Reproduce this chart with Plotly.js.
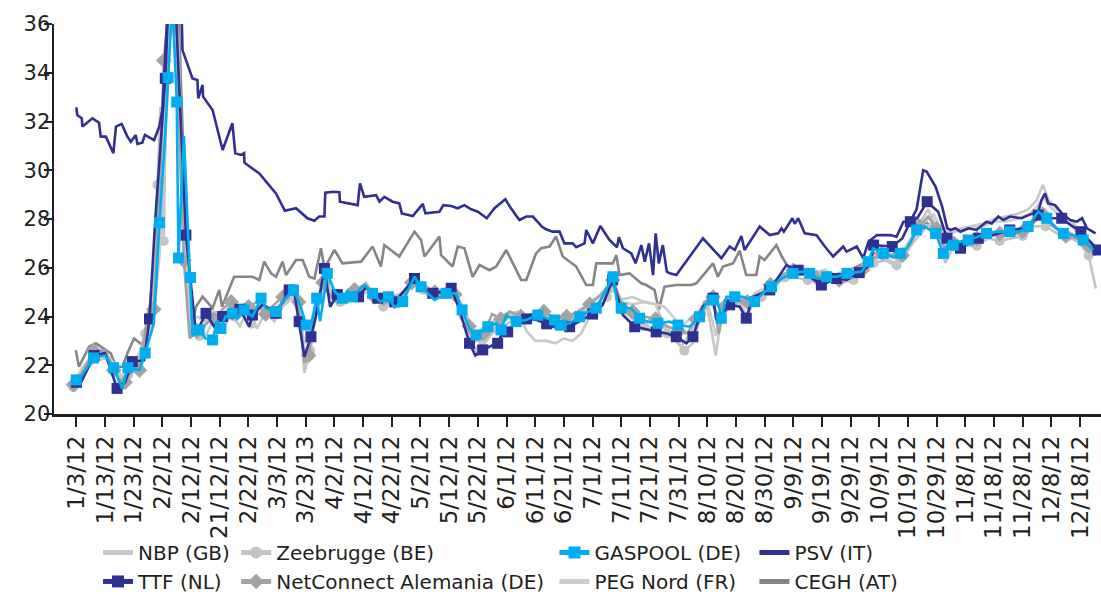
<!DOCTYPE html>
<html><head><meta charset="utf-8">
<script src="https://cdn.plot.ly/plotly-3.0.1.min.js"></script>
<style>html,body{margin:0;padding:0;background:#fff}#chart{width:1101px;height:595px}</style>
</head><body><div id="chart"></div>
<script>
// x values are day of year 2012 (Jan 3 = 3)
const tickLabels = ["1/3/12","1/13/12","1/23/12","2/2/12","2/12/12","21/12/12","2/22/12","3/3/12","3/23/13","4/2/12","4/12/12","4/22/12","5/2/12","5/12/12","5/22/12","6/1/12","6/11/12","6/21/12","7/1/12","7/11/12","7/21/12","7/31/12","8/10/12","8/20/12","8/30/12","9/9/12","9/19/12","9/29/12","10/9/12","10/19/12","10/29/12","11/8/12","11/18/12","11/28/12","12/8/12","12/18/12"];
const tickDays = [3,13,23,33,43,53,63,73,83,93,103,113,123,133,143,153,163,173,183,193,203,213,223,233,243,253,263,273,283,293,303,313,323,333,343,353];

const nbpDay = [2,5,9,13,16,19,21,24,27,30,32,34,36,38.5,40.5,42.5,45,48,51,54,57,60,63,66,69,72,75,78,80.5,82.5,84.5,86,88,90,93,96,100,104,107,110,113,117,121,124,128,132,135,138,141,144,147,150,153,157,160,163,167,170,173,176,179,182,185,188,190.5,193,197,201,205,208,211,214,217,220,223,226,228,231,234,237,240,244,248,252,256,260,264,268,272,276,280,284,288,292,296,299,302,305,308,311,315,319,323,327,331,335,338,340,342,345,348,351,354,357];
const nbpPrice = [21.2,21.8,22.1,22.3,22.0,21.3,21.7,22.1,22.6,24.0,26.5,31.0,36.5,34.0,27.0,23.4,23.6,23.2,23.9,23.5,24.1,23.6,24.3,23.5,24.2,23.8,24.4,24.8,24.1,22.6,22.5,23.9,24.5,25.2,24.8,24.5,24.9,25.4,24.8,24.7,24.6,25.0,25.5,25.0,24.7,24.9,25.0,24.2,23.2,22.9,23.3,23.9,24.0,24.2,23.4,23.0,23.0,22.9,23.1,23.0,23.3,24.0,24.6,24.9,25.1,24.7,24.8,24.6,24.5,23.6,23.1,22.8,23.3,24.0,24.4,22.4,24.2,24.6,24.7,24.0,24.9,25.1,25.5,25.8,25.9,25.7,25.9,25.6,25.8,25.9,26.3,26.5,26.2,26.6,27.2,27.6,27.9,27.2,27.4,27.6,27.7,27.8,28.0,28.1,28.2,28.4,28.8,29.4,28.8,28.4,28.1,27.8,27.2,26.9];

const zeebruggeDay = [2,5,9,13,16,19,21,24,27,29,31.3,32.3,33.5,34.5,36.5,38.5,41,43.3,46,49,52,55,58,61,64,67,70,73,76,79,81,82.5,84.5,87,89.5,92,95,99,103,107,110,113,117,121,124,128,132,135,138,141,143,146,149,152,156,160,164,168,172,176,180,184,188,190.5,193,197,201,205,209,212,215,218,221,224,227,230,234,238,242,246,250,254,258,262,266,270,274,278,281,285,289,293,297,300,303,306,309,313,317,321,325,329,333,337,341,345,349,353,356,358.5];
const zeebruggePrice = [21.1,21.6,22.5,22.6,21.9,21.0,21.6,22.0,23.3,23.9,29.4,32.6,27.1,34.7,37.0,35.5,26.5,23.5,23.2,23.8,23.7,24.2,24.0,24.3,23.7,24.4,24.2,24.3,24.7,25.0,24.0,21.7,22.6,24.4,25.9,24.9,24.6,24.7,25.1,24.9,24.4,24.5,24.8,25.4,25.1,24.8,25.0,24.8,24.0,22.8,22.6,23.0,23.5,23.6,23.9,23.9,24.0,23.7,23.6,23.9,24.1,24.3,24.8,25.3,24.3,23.9,23.6,23.4,23.3,23.0,22.6,22.9,24.1,24.6,24.0,24.7,24.6,24.5,24.8,25.2,25.6,25.6,25.5,25.4,25.6,25.4,25.5,25.8,26.2,26.3,26.1,26.7,27.8,28.4,27.6,26.2,26.9,26.9,26.9,27.2,27.1,27.2,27.3,27.7,27.7,27.4,27.3,27.0,26.5,25.15];

const gaspoolDay = [3,5,9,13,16,19,21,25,27,30,32,34,35,36.5,38,38.3,38.6,40.5,42.8,43.5,45.8,48,50.5,52.2,53.4,55,57.4,59,61.5,64.4,67.4,69.1,72.6,74.9,78.7,81,83.1,84.8,86.8,88,90.5,93.2,95.8,97.5,99.3,103.4,106.3,109,111.8,113.9,116.8,120.9,123.2,127.9,131.9,135.4,137.5,140.1,142.4,143.6,146.5,149.4,151.1,152.9,156.4,159.9,163.9,166.8,169.7,170.3,172.1,175,178.5,181.4,184.3,187.8,190.1,191.8,193,196.5,199.4,202.3,205.8,209.9,212.8,216.9,220.3,222.7,225,226.7,227.9,229.7,232.6,235.5,239.5,242.4,245.4,248.9,252.9,255.9,258.7,261.6,264.6,268.1,271.7,276.8,279.1,280.9,284.4,287.8,290.3,292.6,296,298.9,302.6,303.5,305.3,307,308.8,311.1,314,316.9,320.4,323.9,328.5,332,334.9,338.4,341.4,344.9,347.2,350.6,354.1,357.6];
const gaspoolPrice = [21.4,21.6,22.3,22.4,21.9,21.05,21.9,21.8,22.5,23.7,27.85,31.5,33.8,37.0,32.8,29.4,26.4,31.4,25.6,23.2,23.45,23.1,23.04,23.83,23.51,24.0,24.13,23.9,24.27,24.0,24.75,24.34,24.2,24.61,25.09,24.5,23.65,23.65,24.75,23.8,25.77,25.0,24.75,25.05,24.81,25.3,24.95,24.6,24.81,24.37,24.61,25.63,25.22,24.68,24.95,24.95,24.27,23.51,23.24,23.31,23.58,23.72,23.45,24.06,23.79,23.86,24.06,23.93,23.86,23.45,23.65,23.72,23.99,24.2,24.34,25.09,25.63,24.4,24.34,24.34,23.93,23.79,23.72,23.79,23.65,23.58,23.99,24.54,24.68,24.61,23.93,24.81,24.81,24.81,24.61,24.95,25.22,25.56,25.77,25.84,25.77,25.56,25.63,25.63,25.77,25.84,26.25,26.8,26.59,26.46,26.59,26.8,27.55,27.69,27.41,27.14,26.59,27.0,26.93,27.07,27.14,27.25,27.41,27.48,27.48,27.48,27.69,28.3,28.03,27.62,27.41,27.34,27.14,26.73];

const psvDay = [3,3.3,4.9,5.1,6.5,8.6,10.9,11.5,13.3,15.9,16.8,18.8,20.8,22,23.7,24.3,26,26.9,30.1,31.9,33,35,39.5,40,43.5,45.2,45.5,47,47.2,50.5,54,57.4,58.4,60.4,61.5,61.6,66.8,72.6,75.7,79.6,83.6,86,87.7,89.5,89.8,92.4,94.7,94.9,101.1,101.9,103.4,107.5,108.7,110.4,113.3,115.6,116.5,120.3,123.8,124.7,129.6,131,133.7,136,138.3,140.7,143,146.1,148.8,150.5,152.6,154.3,157.5,159.9,162.2,165.3,166.8,169.1,171.5,173.2,176.1,177.3,180.2,180.8,183.1,185.7,188.9,191.5,192.2,193.6,196.5,198,200,201.2,202.7,204.1,205,206.1,207.5,208.9,209.9,212.2,221.5,227.9,230.8,232.6,234.9,236,241.3,244.8,247.7,248.9,249.7,252.7,253.5,254.7,257,261.1,264,266.9,270.4,271.6,275.1,277.4,279.2,282.2,286.8,289,291.4,293.8,296,298.3,299.5,302.6,304.9,306.7,307.8,309.5,311.3,314,316.9,320.4,322.2,324.5,326.2,328.6,332.6,335,338.4,339.6,340.8,341.9,344.3,347.2,349.6,351.9,353.7,355.4,358.4];
const psvPrice = [32.58,32.27,32.13,31.79,31.93,32.13,31.95,31.38,31.38,30.7,31.79,31.9,31.38,31.17,31.45,31.08,31.13,31.45,31.24,31.79,32.47,37.0,37.5,34.93,33.77,33.7,32.95,33.5,33.02,32.47,30.83,31.93,30.7,30.63,30.7,30.31,29.87,29.05,28.34,28.44,28.03,27.93,28.1,28.1,29.08,29.12,29.1,28.71,28.57,29.46,28.91,28.98,28.71,28.91,28.71,28.64,28.23,28.12,28.62,28.23,28.3,28.57,28.53,28.44,28.57,28.4,28.3,28.03,28.44,28.62,28.81,28.48,27.96,28.1,28.1,27.69,27.58,27.48,27.48,27.0,27.0,26.84,27.0,27.55,27.0,27.71,27.14,26.84,27.25,26.8,26.59,26.18,26.93,26.25,27.0,25.7,27.41,26.18,26.93,25.84,25.77,25.7,27.21,26.39,26.87,26.73,27.3,26.73,27.69,27.34,27.41,27.62,27.48,28.03,27.8,28.03,27.41,27.34,26.87,26.46,26.87,26.66,26.87,26.39,27.07,27.34,27.34,27.27,27.89,27.9,28.4,30.0,29.95,29.33,28.51,27.62,27.55,27.62,27.48,27.62,27.55,27.89,27.82,28.1,27.96,28.1,28.03,28.16,28.3,28.78,29.05,28.64,28.57,28.16,27.96,27.89,28.03,27.62,27.41];

const ttfDay = [3,4.5,9.2,13,17.2,20,22.5,26.6,28.5,30.5,34,35.5,37.5,39.5,41.2,44.7,48.2,51,54,57.5,60,63.3,64.4,68,72.6,75,77.2,79,80.7,82.5,84.8,86.5,89.5,91.5,94,97,101.4,104,108.1,111,114,118,120.9,124,127.3,130,133.7,136.6,140.1,142.1,144.7,147,149.9,151.7,153.4,156.4,160,163.3,167,170.9,175,179.1,183,186.6,190,193.6,197.7,201,205.2,209,212.2,215.7,218,221.5,225,226.2,230.8,234.3,236.6,239,244.8,250.6,254.7,258,262.8,265,268.1,271.7,276,279.9,281,284,287.5,291,293.8,296.2,299.7,303.5,306.6,308.3,311.3,314,317.5,322.8,328.5,334.4,338.4,341.4,346.6,349.8,353.3,357.6,359.2];
const ttfPrice = [21.3,21.26,22.4,22.5,21.05,21.3,22.15,22.2,23.9,27.96,33.77,38.0,37.0,32.06,27.34,23.31,24.13,23.6,24.0,23.93,24.3,23.58,24.06,24.5,24.13,24.6,25.09,25.0,23.79,22.35,23.17,24.0,25.97,24.4,24.9,24.6,24.81,25.2,24.75,24.9,24.6,25.16,25.56,25.1,24.95,25.0,25.16,24.27,22.9,22.4,22.63,22.76,22.9,23.37,23.37,23.86,23.9,23.86,23.7,23.51,23.58,23.86,24.1,24.48,25.5,24.06,23.58,23.5,23.37,23.3,23.17,22.9,23.17,24.4,24.75,23.86,24.48,24.4,23.93,24.81,25.09,26.11,25.9,25.7,25.29,25.4,25.56,25.5,25.8,26.11,26.93,26.9,26.87,27.2,27.89,28.03,28.71,28.3,27.21,26.87,26.8,27.0,27.21,27.34,27.55,27.62,28.16,28.03,28.03,27.75,27.48,26.93,26.73];

const netconnectDay = [2,5,9,13,16,18,20,23,25,28,30,32,33.5,35.5,38,39,40.5,42.5,45,48,51,54,57,60,63,66,69,72,75,78,80.5,82.5,84,86.5,89,91,94,97,100,104,107,110,113,117,120,124,128,132,135,137.5,140,142,145,148,151,154,158,162,166,170,174,178,182,186,190,193,197,201,205,209,213,216,219,222,225,227,229,233,237,241,245,249,253,257,261,265,269,273,277,280,284,288,291,294,297,300,303,306,309,313,317,321,325,329,333,337,340,344,348,352,356,358.5];
const netconnectPrice = [21.2,21.7,22.6,22.6,21.8,21.4,21.3,21.9,21.8,24.2,24.3,28.8,34.5,37.0,36.5,31.0,26.3,23.1,23.4,23.7,23.9,24.3,24.6,24.0,24.4,24.6,24.1,24.5,24.8,25.2,24.6,22.1,22.4,24.3,25.4,24.9,24.8,24.7,25.1,25.3,24.8,24.5,24.7,24.9,25.4,25.3,25.0,25.1,24.9,24.3,23.6,23.0,23.3,24.1,23.9,24.2,24.0,24.1,24.2,23.9,24.0,24.2,24.5,24.9,25.5,24.6,24.2,24.0,23.9,23.6,23.4,23.3,23.9,24.6,24.8,23.3,24.4,24.7,24.6,24.8,25.3,25.7,25.9,25.8,25.6,25.7,25.5,25.8,25.9,26.3,26.6,26.4,26.5,27.0,27.7,28.1,27.6,26.8,27.0,27.1,27.2,27.3,27.4,27.3,27.5,27.9,28.2,27.7,27.3,27.2,26.9,26.5];

const pegNordDay = [2,5,9,13,16,19,21,24,27,30,32,34,36,38.5,40.5,42.5,45,48,51,54,57,60,63,66,69,72,75,78,80.5,82.5,84.5,86,88,90,93,96,100,104,107,110,113,117,121,124,128,132,135,138,141,144,147,150,153,157,160,163,167,170,173,176,179,182,185,188,190.5,193,197,201,205,208,211,214,217,220,223,226,228,231,234,237,240,244,248,252,256,260,264,268,272,276,280,284,288,292,296,299,302,305,308,311,315,319,323,327,331,335,338,340,342,345,348,351,354,357];
const pegNordPrice = [21.3,21.9,22.4,22.5,22.1,21.5,21.9,22.3,22.9,24.1,27.5,32.0,37.0,35.0,28.0,23.6,24.0,23.8,24.2,24.1,24.4,24.0,24.5,24.2,24.4,24.3,24.6,25.0,24.3,22.9,23.0,24.2,24.7,25.5,25.0,24.8,25.0,25.3,25.0,24.7,24.8,25.0,25.5,25.2,24.9,25.1,25.0,24.4,23.5,23.2,23.6,24.0,24.1,24.2,24.0,24.1,24.0,23.8,24.0,24.1,24.3,24.6,24.8,25.2,25.4,24.6,24.5,24.6,24.5,24.4,24.0,23.6,23.9,24.2,24.7,23.2,24.5,24.8,24.9,24.6,25.0,25.2,25.6,25.9,26.0,25.8,25.9,25.7,25.9,26.0,26.4,26.7,26.5,26.8,27.5,27.9,28.2,27.4,27.5,27.5,27.6,27.7,27.9,27.9,28.0,28.2,28.5,28.9,28.6,28.2,27.9,27.6,27.1,26.7];

const ceghDay = [2.8,3.9,7.4,9.8,15,16.8,19.1,20.8,23.1,26,28.4,31,33.5,35.5,38.5,40.5,42.9,44.7,47,50.5,52.8,53.8,58,64.4,66.8,68.5,70.9,72.6,74.9,76.1,79.6,81.9,84.2,86,88.3,89.5,93,95.8,102.3,106.3,109.2,110.4,115.6,120.9,123.2,124.4,129.6,130.2,134.2,136,138.3,139.5,141.2,143.6,147.1,149.4,152.9,158.1,159.9,163.3,165.1,168,170.3,172.6,177.3,180.8,183.1,184.3,190.1,191.3,192.4,195.9,200,201.7,204.6,206.1,208.1,212.2,217.4,219.2,222.1,225,226.7,228.5,232,234.3,236.6,240.1,241.3,243,247.1,249,251.9,255.3,258.7,262.2,267.4,272.7,277.9,281.4,286.6,291.9,295.4,298.9,302.4,305.9,309.4,314.6,319.8,325.1,330.3,335.5,339,342.5,346,349.5,353,357.5];
const ceghPrice = [22.62,21.94,22.76,22.9,22.49,21.94,21.94,22.49,23.1,22.83,24.13,27.5,33.0,37.0,37.0,30.0,23.31,24.4,24.81,24.34,25.09,24.4,25.63,25.63,25.5,26.25,25.77,25.63,26.25,25.7,26.32,26.32,25.63,25.56,26.8,25.97,26.73,26.18,26.25,26.87,26.05,26.93,26.46,27.48,27.14,26.46,27.28,26.52,26.05,26.87,26.8,26.32,25.63,26.11,25.9,26.05,26.73,25.5,25.5,26.59,26.8,26.87,27.28,26.46,26.05,25.29,25.29,26.18,26.18,26.52,25.7,25.77,25.36,25.29,25.09,24.27,25.22,25.29,25.29,25.36,25.77,26.18,25.63,26.05,26.18,26.7,25.7,25.7,26.46,26.32,26.93,26.46,25.9,25.9,25.8,25.6,25.7,25.9,26.2,26.6,26.5,26.8,27.4,27.9,27.6,26.8,27.0,27.2,27.3,27.4,27.5,27.7,28.1,27.8,27.5,27.4,27.1,26.6];

// marker shown on every `every`-th point (the original shows markers roughly weekly)
function sparseSizes(n, every, size) {
  return Array.from({length: n}, (_, i) => (i % every === 0 ? size : 0));
}
function mk(symbol, color, n, size) {
  return {symbol: symbol, color: color, size: sparseSizes(n, 2, size), opacity: 1, line: {width: 0}};
}

const W = 2.6;
const traces = [
  {name:'CEGH (AT)', x:ceghDay, y:ceghPrice, mode:'lines', line:{color:'#858585', width:W}, legend:'legend4', legendrank:2},
  {name:'PEG Nord (FR)', x:pegNordDay, y:pegNordPrice, mode:'lines', line:{color:'#cdcdcd', width:W}, legend:'legend3', legendrank:2},
  {name:'NBP (GB)', x:nbpDay, y:nbpPrice, mode:'lines', line:{color:'#c8c8c8', width:W}, legend:'legend', legendrank:1},
  {name:'Zeebrugge (BE)', x:zeebruggeDay, y:zeebruggePrice, mode:'lines+markers', line:{color:'#c4c4c4', width:W},
    marker: mk('circle', '#c4c4c4', zeebruggeDay.length, 10), legend:'legend2', legendrank:1},
  {name:'NetConnect Alemania (DE)', x:netconnectDay, y:netconnectPrice, mode:'lines+markers', line:{color:'#a3a3a3', width:W},
    marker: mk('diamond', '#a3a3a3', netconnectDay.length, 12), legend:'legend2', legendrank:2},
  {name:'TTF (NL)', x:ttfDay, y:ttfPrice, mode:'lines+markers', line:{color:'#2e3192', width:W},
    marker: mk('square', '#2e3192', ttfDay.length, 11), legend:'legend', legendrank:2},
  {name:'PSV (IT)', x:psvDay, y:psvPrice, mode:'lines', line:{color:'#2e3192', width:W}, legend:'legend4', legendrank:1},
  {name:'GASPOOL (DE)', x:gaspoolDay, y:gaspoolPrice, mode:'lines+markers', line:{color:'#00aeef', width:W},
    marker: mk('square', '#00aeef', gaspoolDay.length, 11), legend:'legend3', legendrank:1}
];

const txt = '#231f20';
const fam = '"DejaVu Sans", "Open Sans", sans-serif';
const legBase = {xanchor:'left', yanchor:'top', y:-0.305, orientation:'v', bgcolor:'rgba(0,0,0,0)',
  font:{family:fam, size:20, color:txt}, itemsizing:'constant', traceorder:'normal', tracegroupgap:0, itemwidth:30};

const layout = {
  width:1101, height:595,
  margin:{l:54, r:0, t:24, b:181, autoexpand:false},
  paper_bgcolor:'#ffffff', plot_bgcolor:'#ffffff',
  font:{family:fam, size:20, color:txt},
  showlegend:true,
  xaxis:{range:[-4.8, 360.3], tickmode:'array', tickvals:tickDays, ticktext:tickLabels, tickangle:-90,
    ticks:'outside', ticklen:10, tickwidth:2, tickcolor:txt, showline:true, linecolor:txt, linewidth:2.5,
    showgrid:false, zeroline:false, automargin:false, tickfont:{family:fam, size:23, color:txt}},
  yaxis:{range:[20,36], dtick:2, ticks:'outside', ticklen:8, tickwidth:2, tickcolor:txt, showline:true,
    linecolor:txt, linewidth:2.5, showgrid:false, zeroline:false, automargin:false, ticklabelstandoff:-11,
    tickfont:{family:fam, size:21, color:txt}},
  legend: Object.assign({}, legBase, {x:0.042}),
  legend2: Object.assign({}, legBase, {x:0.174}),
  legend3: Object.assign({}, legBase, {x:0.478}),
  legend4: Object.assign({}, legBase, {x:0.669})
};

Plotly.newPlot('chart', traces, layout, {staticPlot:true, displayModeBar:false});
</script>
</body></html>
